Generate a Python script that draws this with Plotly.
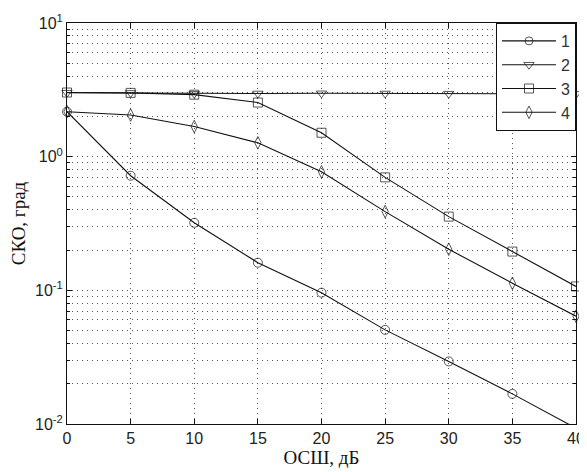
import plotly.graph_objects as go

snr_db = [0, 5, 10, 15, 20, 25, 30, 35, 40]
s1 = [2.17, 0.72, 0.32, 0.161, 0.096, 0.0506, 0.0294, 0.0168, 0.0093]
s2 = [3.01, 3.0, 2.96, 2.97, 2.98, 2.97, 2.96, 2.96, 2.95]
s3 = [3.02, 3.0, 2.91, 2.54, 1.51, 0.70, 0.356, 0.195, 0.107]
s4 = [2.17, 2.05, 1.68, 1.27, 0.77, 0.388, 0.203, 0.113, 0.064]
names = ["1", "2", "3", "4"]
symbols = ["circle-open", "triangle-down-open", "square-open", "diamond-tall-open"]

y_min, y_max = 0.01, 10
ytick_vals = [0.01, 0.1, 1, 10]
ytick_text = ["10<sup>-2</sup>", "10<sup>-1</sup>", "10<sup>0</sup>", "10<sup>1</sup>"]
xtick_vals = [0, 5, 10, 15, 20, 25, 30, 35, 40]

fig = go.Figure()
for name, ys, sym in zip(names, [s1, s2, s3, s4], symbols):
    sizes = [9 if y_min <= v <= y_max else 0 for v in ys]
    fig.add_trace(go.Scatter(
        x=snr_db, y=ys, name=name, mode="lines+markers",
        line=dict(color="#111", width=1.1),
        marker=dict(symbol=sym, size=sizes, color="#111", line=dict(width=1, color="#111")),
        cliponaxis=False,
    ))

grid_dash = "1px,4px"
fig.update_layout(
    width=579, height=464,
    margin=dict(l=59, r=11, t=15, b=48, autoexpand=False),
    paper_bgcolor="white", plot_bgcolor="white",
    font=dict(family="Liberation Sans, Arial, sans-serif", size=16, color="#222"),
    showlegend=True,
    legend=dict(
        x=1, y=1, xanchor="right", yanchor="top",
        bgcolor="white", bordercolor="#111", borderwidth=1,
        font=dict(family="Liberation Sans, Arial, sans-serif", size=16, color="#333"),
        tracegroupgap=0, itemwidth=54,
    ),
    xaxis=dict(
        range=[0, 40], tickvals=xtick_vals, automargin=False,
        showline=True, linecolor="#111", linewidth=1, mirror="ticks",
        ticks="inside", ticklen=5, tickcolor="#111",
        showgrid=True, gridcolor="#555", gridwidth=1, griddash=grid_dash,
        zeroline=False,
        title=dict(text="ОСШ, дБ", font=dict(family="Liberation Serif, Times New Roman, serif", size=19, color="#111"), standoff=1),
    ),
    yaxis=dict(
        type="log", range=[-2, 1], tickvals=ytick_vals, ticktext=ytick_text, automargin=False,
        showline=True, linecolor="#111", linewidth=1, mirror="ticks",
        ticks="inside", ticklen=5, tickcolor="#111",
        showgrid=True, gridcolor="#555", gridwidth=1, griddash=grid_dash,
        minor=dict(dtick="D1", showgrid=True, gridcolor="#555", gridwidth=1, griddash=grid_dash,
                   ticks="inside", ticklen=3, tickcolor="#111"),
        zeroline=False,
        title=dict(text="СКО, град", font=dict(family="Liberation Serif, Times New Roman, serif", size=19, color="#111"), standoff=8),
    ),
)

fig.write_html("out.html")
